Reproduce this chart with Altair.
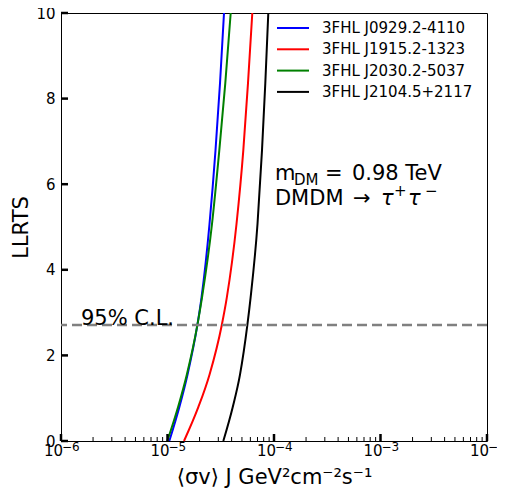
import altair as alt
import pandas as pd

# ---- data ----
names = ["3FHL J0929.2-4110", "3FHL J1915.2-1323", "3FHL J2030.2-5037", "3FHL J2104.5+2117"]
colors = ["blue", "red", "green", "black"]
llrts = [0, 0.79, 1.55, 2.70, 3.35, 5.07, 6.79, 8.36, 10]
sv_j0929 = [1.0397e-5, 1.2908e-5, 1.5410e-5, 1.9050e-5, 2.0857e-5, 2.4796e-5, 2.8230e-5, 3.1120e-5, 3.3929e-5]
sv_j1915 = [1.4287e-5, 1.9463e-5, 2.4796e-5, 3.2279e-5, 3.6042e-5, 4.4452e-5, 5.1492e-5, 5.7000e-5, 6.2552e-5]
sv_j2030 = [9.957e-6, 1.2548e-5, 1.5179e-5, 1.9050e-5, 2.1083e-5, 2.6172e-5, 3.0647e-5, 3.4891e-5, 3.9213e-5]
sv_j2104 = [3.3415e-5, 4.0946e-5, 4.7946e-5, 5.6144e-5, 6.0295e-5, 6.9995e-5, 7.7148e-5, 8.2854e-5, 8.8406e-5]
cl95 = 2.71

x_tick_vals = [1e-6, 1e-5, 1e-4, 1e-3, 1e-2]
x_tick_base = ["10", "10", "10", "10", "10"]
x_tick_exps = ["−6", "−5", "−4", "−3", "−2"]
y_tick_vals = [0, 2, 4, 6, 8, 10]
x_minor = [k * d for d in [1e-6, 1e-5, 1e-4, 1e-3] for k in range(2, 10)]

x_title = "⟨σv⟩ J GeV²cm⁻²s⁻¹"
y_title = "LLRTS"

series = [sv_j0929, sv_j1915, sv_j2030, sv_j2104]
rows = []
for n, sv in zip(names, series):
    for xv, yv in zip(sv, llrts):
        rows.append({"sv": xv, "ts": yv, "src": n})
df = pd.DataFrame(rows)

W, H = 426, 428
FONT = "DejaVu Sans"
xscale = alt.Scale(type="log", domain=[1e-6, 1e-2], nice=False)
yscale = alt.Scale(domain=[0, 10], nice=False, zero=False)

xaxis = alt.Axis(values=x_tick_vals, labels=False, titlePadding=25)
yaxis = alt.Axis(values=y_tick_vals, labelPadding=6, titlePadding=4)


def X(field):
    return alt.X(field, type="quantitative", scale=xscale, axis=xaxis, title=x_title)


def Y(field):
    return alt.Y(field, type="quantitative", scale=yscale, axis=yaxis, title=y_title)


lines = alt.Chart(df).mark_line(strokeWidth=2, interpolate="monotone").encode(
    x=X("sv"),
    y=Y("ts"),
    color=alt.Color("src:N", scale=alt.Scale(domain=names, range=colors),
                    legend=alt.Legend(title=None, orient="none", legendX=223, legendY=6,
                                      symbolType="M-2,0H2", symbolSize=256,
                                      symbolStrokeWidth=2, labelFontSize=15, labelFont=FONT,
                                      labelOffset=20, rowPadding=4.3, labelColor="black",
                                      padding=0)),
)

cl_line = alt.Chart(pd.DataFrame({"y": [cl95]})).mark_rule(
    color="gray", strokeDash=[10, 5], strokeWidth=2.5
).encode(y=Y("y"))

xmaj = alt.Chart(pd.DataFrame({"v": x_tick_vals})).mark_rule(color="black", strokeWidth=2.5).encode(
    x=X("v"), y=alt.value(H), y2=alt.value(H - 7))
xmin = alt.Chart(pd.DataFrame({"v": x_minor})).mark_rule(color="black", strokeWidth=1).encode(
    x=X("v"), y=alt.value(H), y2=alt.value(H - 4))
ymaj = alt.Chart(pd.DataFrame({"v": y_tick_vals})).mark_rule(color="black", strokeWidth=2.5).encode(
    y=Y("v"), x=alt.value(0), x2=alt.value(7))

# x tick labels: "10" with a raised exponent
tick_df = pd.DataFrame({"v": x_tick_vals, "y": [0] * len(x_tick_vals),
                        "b": x_tick_base, "e": x_tick_exps})
xbase = alt.Chart(tick_df).mark_text(
    align="right", baseline="alphabetic", fontSize=15, font=FONT, color="black", dx=2, dy=15
).encode(x=X("v"), y=Y("y"), text="b:N")
xexp = alt.Chart(tick_df).mark_text(
    align="left", baseline="alphabetic", fontSize=12, font=FONT, color="black", dx=1, dy=10
).encode(x=X("v"), y=Y("y"), text="e:N")


def txt(x, y, t, size, dx=0, dy=0, style="normal"):
    return alt.Chart(pd.DataFrame({"x": [x], "y": [y], "t": [t]})).mark_text(
        align="left", baseline="alphabetic", fontSize=size, font=FONT, color="black",
        dx=dx, dy=dy, fontStyle=style
    ).encode(x=X("x"), y=Y("y"), text="t:N")


ax = 1.02e-4
texts = [
    txt(ax, 6.10, "m", 21),
    txt(ax, 6.10, "DM", 15, dx=19, dy=5),
    txt(ax, 6.10, "=", 21, dx=50),
    txt(ax, 6.10, "0.98 TeV", 21, dx=77),
    txt(ax, 5.51, "DMDM", 21),
    txt(ax, 5.51, "→", 21, dx=78),
    txt(ax, 5.51, "τ", 21, dx=106, style="italic"),
    txt(ax, 5.51, "+", 15, dx=119, dy=-9),
    txt(ax, 5.51, "τ", 21, dx=133, style="italic"),
    txt(ax, 5.51, "−", 15, dx=150, dy=-9),
    txt(1.54e-6, 2.70, "95% C.L.", 21),
]

chart = alt.layer(lines, cl_line, xmin, xmaj, ymaj, xbase, xexp, *texts).properties(
    width=W, height=H,
    autosize=alt.AutoSizeParams(type="none"),
    padding={"left": 53, "top": 5, "right": 10, "bottom": 50},
).configure_view(stroke="black", strokeWidth=1).configure_axis(
    grid=False, domain=False, ticks=False,
    labelFont=FONT, labelFontSize=15, labelColor="black",
    titleFont=FONT, titleFontSize=21, titleFontWeight="normal", titleColor="black",
)

chart.save("out.html", embed_options={"renderer": "svg", "actions": False})
